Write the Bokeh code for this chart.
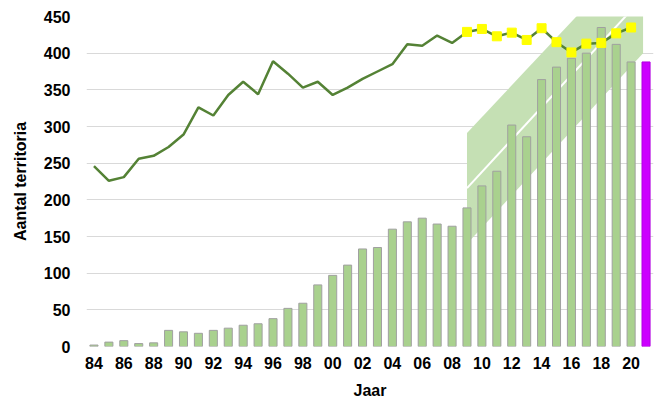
from bokeh.plotting import figure
from bokeh.models import FixedTicker, ColumnDataSource
from bokeh.embed import file_html
from bokeh.resources import INLINE

# ---- data ----
years = [1984, 1985, 1986, 1987, 1988, 1989, 1990, 1991, 1992, 1993, 1994, 1995,
         1996, 1997, 1998, 1999, 2000, 2001, 2002, 2003, 2004, 2005, 2006, 2007,
         2008, 2009, 2010, 2011, 2012, 2013, 2014, 2015, 2016, 2017, 2018, 2019, 2020]
bar_values = [2, 6, 8, 4, 5, 22, 20, 18, 22, 25, 29, 31,
              38, 52, 59, 84, 97, 111, 133, 135, 160, 170, 175, 167,
              164, 189, 219, 239, 302, 286, 364, 381, 393, 400, 435, 412, 388]
line_values = [246, 226, 231, 256, 260, 272, 289, 326, 315, 343, 361, 344,
               389, 372, 353, 361, 343, 353, 365, 375, 385, 412, 410, 424,
               414, 429, 433, 423, 428, 418, 434, 415, 401, 413, 414, 427, 435]
marker_years = [2009, 2010, 2011, 2012, 2013, 2014, 2015, 2016, 2017, 2018, 2019, 2020]
marker_values = [429, 433, 423, 428, 418, 434, 415, 401, 413, 414, 427, 435]
extra_year = [2021]
extra_value = [388]

# trend band (corner points)
band_x = [2009.0, 2020.8, 2020.8, 2009.0]
band_y = [291, 547, 400, 140]
trend_x = [2009.0, 2020.8]
trend_y = [216, 476]

tick_years = [1984, 1986, 1988, 1990, 1992, 1994, 1996, 1998, 2000, 2002,
              2004, 2006, 2008, 2010, 2012, 2014, 2016, 2018, 2020]
tick_labels = ["84", "86", "88", "90", "92", "94", "96", "98", "00", "02",
               "04", "06", "08", "10", "12", "14", "16", "18", "20"]
y_ticks = [0, 50, 100, 150, 200, 250, 300, 350, 400, 450]

FONT = "Liberation Sans"

p = figure(width=657, height=408, x_range=(1983.5, 2021.5), y_range=(0, 450),
           output_backend="svg", toolbar_location=None,
           min_border_left=86, min_border_right=4, min_border_top=16,
           min_border_bottom=62)
p.outline_line_color = None
p.background_fill_color = "white"
p.border_fill_color = "white"

# grid
p.xgrid.grid_line_color = None
p.ygrid.grid_line_color = "#D9D9D9"
p.ygrid.grid_line_width = 1
p.yaxis.ticker = FixedTicker(ticks=y_ticks)
p.xaxis.ticker = FixedTicker(ticks=tick_years)
p.xaxis.major_label_overrides = {t: l for t, l in zip(tick_years, tick_labels)}

for ax in (p.xaxis, p.yaxis):
    ax.axis_line_color = None
    ax.major_tick_line_color = None
    ax.minor_tick_line_color = None
    ax.major_tick_out = 0
    ax.major_tick_in = 0
    ax.major_label_text_font = FONT
    ax.major_label_text_font_style = "bold"
    ax.major_label_text_font_size = "16px"
    ax.major_label_text_color = "black"
    ax.axis_label_text_font = FONT
    ax.axis_label_text_font_style = "bold"
    ax.axis_label_text_font_size = "16px"
    ax.axis_label_text_color = "black"

p.yaxis.major_label_standoff = 16
p.xaxis.major_label_standoff = 10
p.yaxis.axis_label = "Aantal territoria"
p.xaxis.axis_label = "Jaar"
p.yaxis.axis_label_standoff = 12
p.xaxis.axis_label_standoff = 10

# trend band
p.patch(band_x, band_y, fill_color="#C5E0B4", line_color=None)
p.line(trend_x, trend_y, line_color="white", line_width=2)

# bars
src = ColumnDataSource(dict(x=years, top=bar_values))
p.vbar(x="x", top="top", width=0.54, bottom=0, source=src,
       fill_color="#A9D18E", line_color="#A0A0A0", line_width=1)
p.vbar(x=extra_year, top=extra_value, width=0.54, bottom=0,
       fill_color="#CC00FF", line_color="#B000E0", line_width=1)

# line
p.line(years, line_values, line_color="#548235", line_width=2.5)
p.scatter(marker_years, marker_values, marker="square", size=9,
          fill_color="#FFFF00", line_color="#FFFF00")

open("out.html", "w").write(file_html(p, INLINE))
